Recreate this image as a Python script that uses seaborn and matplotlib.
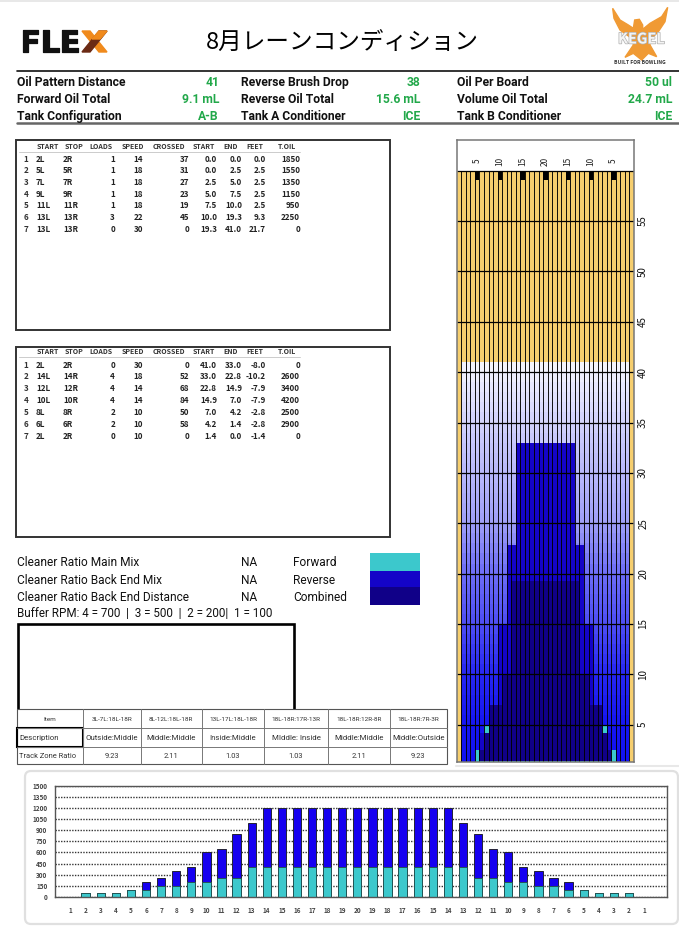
#!/usr/bin/env python3
"""Lane condition sheet: oil pattern summary, lane graph and board totals."""

import matplotlib
matplotlib.use("Agg")
import matplotlib.patheffects as pe
import matplotlib.pyplot as plt
import numpy as np
import pandas as pd
import seaborn as sns
from matplotlib.colors import ListedColormap
from matplotlib.patches import FancyBboxPatch, Polygon, Rectangle

W, H = 679, 930

TITLE = "8月レーンコンディション"

SUMMARY = [
    [("Oil Pattern Distance", "41"), ("Reverse Brush Drop", "38"), ("Oil Per Board", "50 ul")],
    [("Forward Oil Total", "9.1 mL"), ("Reverse Oil Total", "15.6 mL"), ("Volume Oil Total", "24.7 mL")],
    [("Tank Configuration", "A-B"), ("Tank A Conditioner", "ICE"), ("Tank B Conditioner", "ICE")],
]

TABLE_HEAD = ["START", "STOP", "LOADS", "SPEED", "CROSSED", "START", "END", "FEET", "T.OIL"]
FORWARD_ROWS = [
    ["1", "2L", "2R", "1", "14", "37", "0.0", "0.0", "0.0", "1850"],
    ["2", "5L", "5R", "1", "18", "31", "0.0", "2.5", "2.5", "1550"],
    ["3", "7L", "7R", "1", "18", "27", "2.5", "5.0", "2.5", "1350"],
    ["4", "9L", "9R", "1", "18", "23", "5.0", "7.5", "2.5", "1150"],
    ["5", "11L", "11R", "1", "18", "19", "7.5", "10.0", "2.5", "950"],
    ["6", "13L", "13R", "3", "22", "45", "10.0", "19.3", "9.3", "2250"],
    ["7", "13L", "13R", "0", "30", "0", "19.3", "41.0", "21.7", "0"],
]
REVERSE_ROWS = [
    ["1", "2L", "2R", "0", "30", "0", "41.0", "33.0", "-8.0", "0"],
    ["2", "14L", "14R", "4", "18", "52", "33.0", "22.8", "-10.2", "2600"],
    ["3", "12L", "12R", "4", "14", "68", "22.8", "14.9", "-7.9", "3400"],
    ["4", "10L", "10R", "4", "14", "84", "14.9", "7.0", "-7.9", "4200"],
    ["5", "8L", "8R", "2", "10", "50", "7.0", "4.2", "-2.8", "2500"],
    ["6", "6L", "6R", "2", "10", "58", "4.2", "1.4", "-2.8", "2900"],
    ["7", "2L", "2R", "0", "10", "0", "1.4", "0.0", "-1.4", "0"],
]

CLEANER = [
    ("Cleaner Ratio Main Mix", "NA", "Forward"),
    ("Cleaner Ratio Back End Mix", "NA", "Reverse"),
    ("Cleaner Ratio Back End Distance", "NA", "Combined"),
]
BUFFER = "Buffer RPM: 4 = 700  |  3 = 500  |  2 = 200|  1 = 100"

ZONE_ITEM = ["Item", "3L-7L:18L-18R", "8L-12L:18L-18R", "13L-17L:18L-18R",
             "18L-18R:17R-13R", "18L-18R:12R-8R", "18L-18R:7R-3R"]
ZONE_DESC = ["Description", "Outside:Middle", "Middle:Middle", "Inside:Middle",
             "MIddle: Inside", "Middle:Middle", "Middle:Outside"]
ZONE_RATIO = ["Track Zone Ratio", "9.23", "2.11", "1.03", "1.03", "2.11", "9.23"]

# lane graph: first board from the gutter, from/to in feet
FWD_BOARD = [5, 7, 8, 11, 13]
FWD_FROM = [0.0, 2.5, 5.0, 7.0, 10.0]
FWD_TO = [2.5, 5.0, 7.0, 10.0, 19.3]
REV_BOARD = [14, 12, 10, 8, 6]
REV_FROM = [22.8, 14.9, 7.0, 4.2, 1.4]
REV_TO = [33.0, 22.8, 14.9, 7.0, 4.2]
PATTERN_END = 41
LANE_FEET = [5, 10, 15, 20, 25, 30, 35, 40, 45, 50, 55]
TOP_BOARDS = [5, 10, 15, 20, 15, 10, 5]

# oil per board across the lane, gutter to gutter
BOARDS = [1, 2, 3, 4, 5, 6, 7, 8, 9, 10, 11, 12, 13, 14, 15, 16, 17, 18, 19, 20,
          19, 18, 17, 16, 15, 14, 13, 12, 11, 10, 9, 8, 7, 6, 5, 4, 3, 2, 1]
FORWARD = [0, 50, 50, 50, 100, 100, 150, 150, 200, 200, 250, 250, 400, 400, 400, 400, 400, 400, 400, 400,
           400, 400, 400, 400, 400, 400, 400, 250, 250, 200, 200, 150, 150, 100, 100, 50, 50, 50, 0]
TOTAL = [0, 50, 50, 50, 100, 200, 250, 350, 400, 600, 650, 850, 1000, 1200, 1200, 1200, 1200, 1200, 1200, 1200,
         1200, 1200, 1200, 1200, 1200, 1200, 1000, 850, 650, 600, 400, 350, 250, 200, 100, 50, 50, 50, 0]
OIL_TICKS = [0, 150, 300, 450, 600, 750, 900, 1050, 1200, 1350, 1500]

GOLD = "#f6ce6e"
CYAN = "#3cc8cc"
REV_BLUE = "#1404c8"
COMB_BLUE = "#100088"
BAR_BLUE = "#1600f0"
GREEN = "#22a84a"
# lane shading from the foul line up to the end of the pattern
SHADE_FEET = [0, 5, 10, 15, 20, 25, 30, 35, 41]
SHADE_LEVEL = [0.06, 0.08, 0.15, 0.30, 0.42, 0.62, 0.72, 0.82, 0.97]

NARROW = ["Roboto", "DejaVu Sans"]


def px_axes(fig, left, top, right, bottom):
    return fig.add_axes([left / W, 1 - bottom / H, (right - left) / W, (bottom - top) / H])


def draw_logos(page):
    page.text(20, 52, "FLE", fontsize=21.5, fontweight="bold", family="DejaVu Sans",
              color="#111111", va="baseline", ha="left",
              path_effects=[pe.withStroke(linewidth=0.9, foreground="#111111")])
    page.add_patch(Polygon([(82, 31), (90, 31), (107, 52), (99, 52)], color="#f08a1c"))
    page.add_patch(Polygon([(99, 31), (107, 31), (90, 52), (82, 52)], color="#6b2a14"))
    page.add_patch(Polygon([(99, 31), (107, 31), (100, 39), (92, 39)], color="#f08a1c"))
    wing = [(38, 25), (60, 60), (85, 75), (100, 85), (104, 60), (118, 58), (128, 75), (128, 88),
            (150, 70), (185, 50), (203, 22), (195, 65), (175, 95), (150, 120), (150, 135), (170, 170),
            (145, 160), (125, 180), (100, 160), (75, 172), (100, 135), (95, 115), (60, 90), (42, 55)]
    page.add_patch(Polygon([(600 + x / 3, y / 3) for x, y in wing], color="#f09a34"))
    page.text(641.5, 38.5, "KEGEL", fontsize=10.5, fontweight="bold", color="#f4f4f4",
              ha="center", va="center",
              path_effects=[pe.withStroke(linewidth=1.0, foreground="#b0b0b0")])
    page.text(640, 62.5, "BUILT FOR BOWLING", fontsize=3.6, fontweight="bold", color="#333333",
              ha="center", va="center")


def draw_summary(page):
    page.plot([17, 679], [71, 71], color="#111111", lw=1.2)
    page.plot([17, 679], [123, 123], color="#666666", lw=1.8)
    label_x = [17, 241, 457]
    value_x = [219, 420, 672]
    for row, y in zip(SUMMARY, [86, 103, 120]):
        for (label, value), lx, vx in zip(row, label_x, value_x):
            page.text(lx, y, label, fontsize=8.7, fontweight="bold", family=NARROW,
                      color="#111111", va="baseline", ha="left")
            page.text(vx, y, value, fontsize=8.7, fontweight="bold", family=NARROW,
                      color=GREEN, va="baseline", ha="right")


def draw_tank_table(page, rows, top, bottom, head_y, first_y, step):
    page.add_patch(Rectangle((16, top), 374, bottom - top, fill=False, ec="#333333", lw=1.4))
    head_x = [48, 74, 101, 133, 169, 204, 231, 255, 287]
    for text, x in zip(TABLE_HEAD, head_x):
        page.text(x, head_y, text, fontsize=5.0, fontweight="bold", color="#333333",
                  ha="center", va="center")
    page.plot([19, 300], [head_y + 5, head_y + 5], color="#cccccc", lw=0.7)
    right_x = [115, 143, 189, 217, 242, 266, 300]
    for i, row in enumerate(rows):
        y = first_y + i * step
        page.text(26, y, row[0], fontsize=5.8, fontweight="bold", color="#333333", ha="center", va="center")
        page.text(36, y, row[1], fontsize=5.8, fontweight="bold", color="#222222", ha="left", va="center")
        page.text(63, y, row[2], fontsize=5.8, fontweight="bold", color="#222222", ha="left", va="center")
        for text, x in zip(row[3:], right_x):
            page.text(x, y, text, fontsize=5.8, fontweight="bold", color="#222222", ha="right", va="center")


def draw_cleaner(page):
    for (name, na, legend), y in zip(CLEANER, [566, 584, 601]):
        page.text(17, y, name, fontsize=8.55, family=NARROW, color="#111111", va="baseline")
        page.text(241, y, na, fontsize=8.55, family=NARROW, color="#111111", va="baseline")
        page.text(293.5, y, legend, fontsize=8.55, family=NARROW, color="#111111", va="baseline")
    page.text(17, 617, BUFFER, fontsize=8.4, family=NARROW, color="#111111", va="baseline")
    for color, top, bottom in zip([CYAN, REV_BLUE, COMB_BLUE], [553.3, 570.7, 587.3], [570.7, 587.3, 605]):
        page.add_patch(Rectangle((370, top), 50, bottom - top, color=color, lw=0))
    page.add_patch(Rectangle((17.5, 623.5), 276, 86, fill=False, ec="black", lw=1.9))


def draw_zone_table(page):
    xs = [17.3, 82.7, 140.7, 201.7, 264.3, 327.7, 390, 446.7]
    ys = [709, 728.3, 747.3, 764]
    page.add_patch(Rectangle((xs[0], ys[0]), xs[-1] - xs[0], ys[-1] - ys[0], fc="white", ec="#555555", lw=0.8))
    for x in xs[1:-1]:
        page.plot([x, x], [ys[0], ys[-1]], color="#777777", lw=0.7)
    for y in ys[1:-1]:
        page.plot([xs[0], xs[-1]], [y, y], color="#777777", lw=0.7)
    page.add_patch(Rectangle((xs[0], ys[1]), xs[1] - xs[0], ys[2] - ys[1], fill=False, ec="black", lw=1.5))
    for row, y, size in zip([ZONE_ITEM, ZONE_DESC, ZONE_RATIO], [720.5, 740, 758], [4.6, 5.7, 5.4]):
        for i, text in enumerate(row):
            centre = (xs[i] + xs[i + 1]) / 2
            if i == 0 and text != "Item":
                page.text(xs[0] + 2, y, text, fontsize=size, family=NARROW, color="#333333", va="baseline")
            else:
                page.text(centre, y, text, fontsize=size, family=NARROW, color="#333333",
                          va="baseline", ha="center")


def lane_matrix():
    rows, cols = 600, 39
    feet = 60 - (np.arange(rows) + 0.5) / 10
    # 0 gold, 1 forward, 2 reverse, 3 combined, 4 black, 5.. shading per foot
    grid = np.zeros((rows, cols), dtype=int)
    inside = feet < PATTERN_END
    grid[inside, 1:38] = (5 + np.floor(feet[inside]).astype(int))[:, None]
    fwd = np.zeros_like(grid, dtype=bool)
    rev = np.zeros_like(grid, dtype=bool)
    for board, lo, hi in zip(FWD_BOARD, FWD_FROM, FWD_TO):
        fwd[(feet >= lo) & (feet < hi), board - 1:40 - board] = True
    for board, lo, hi in zip(REV_BOARD, REV_FROM, REV_TO):
        rev[(feet >= lo) & (feet < hi), board - 1:40 - board] = True
    grid[fwd] = 1
    grid[rev] = 2
    grid[fwd & rev] = 3
    for col in [4, 9, 14, 19, 24, 29, 34]:
        grid[feet > 59.1, col] = 4
    return grid


def draw_lane(fig):
    ax = px_axes(fig, 456.7, 140, 634, 762)
    level = np.interp(np.arange(PATTERN_END) + 0.5, SHADE_FEET, SHADE_LEVEL)
    shades = [(v, v, 0.94 + 0.06 * v) for v in level]
    cmap = ListedColormap([GOLD, CYAN, REV_BLUE, COMB_BLUE, "black"] + shades)
    sns.heatmap(lane_matrix(), cmap=cmap, vmin=-0.5, vmax=cmap.N - 0.5, cbar=False,
                xticklabels=False, yticklabels=False, ax=ax)
    bottom_row, top_row = 587, -30.5
    ax.vlines(np.arange(1, 39), 0, bottom_row, color="black", lw=0.65)
    ax.hlines(0, 0, 39, color="black", lw=0.9)
    ft_rows = [(60 - f) * 10 for f in LANE_FEET]
    ax.hlines(ft_rows, 0, 39, color="black", lw=0.9)
    ax.set_xlim(0, 39)
    ax.set_ylim(bottom_row, top_row)
    ax.yaxis.tick_right()
    ax.set_yticks(ft_rows, [str(f) for f in LANE_FEET])
    ax.tick_params(axis="y", length=0, pad=3, labelsize=7, labelrotation=90, labelcolor="#111111")
    for label in ax.get_yticklabels():
        label.set_va("center")
    for col, board in zip([4, 9, 14, 19, 24, 29, 34], TOP_BOARDS):
        ax.text(col + 0.5, -9.5, str(board), rotation=90, fontsize=6, color="#222222",
                ha="center", va="center")
    for spine in ax.spines.values():
        spine.set_visible(True)
        spine.set_color("#777777")
        spine.set_linewidth(1.1)


def draw_bars(fig):
    ax = px_axes(fig, 55, 785.7, 666.7, 897)
    df = pd.DataFrame({"pos": range(len(BOARDS)), "forward": FORWARD, "total": TOTAL})
    ax.set_axisbelow(True)
    ax.yaxis.grid(True, color="#333333", ls=(0, (1, 1)), lw=1.0)
    ax.xaxis.grid(True, color="#d8d8d8", ls=(0, (2, 2)), lw=0.6)
    sns.barplot(data=df, x="pos", y="total", color=BAR_BLUE, saturation=1, width=0.55,
                edgecolor="#222233", linewidth=0.7, ax=ax)
    sns.barplot(data=df, x="pos", y="forward", color=CYAN, saturation=1, width=0.55,
                edgecolor="#225555", linewidth=0.7, ax=ax)
    ax.set_xlim(-1.03, 39.5)
    ax.set_ylim(0, 1500)
    ax.set_xlabel("")
    ax.set_ylabel("")
    ax.set_yticks(OIL_TICKS)
    ax.set_xticks(df["pos"], [str(b) for b in BOARDS])
    ax.tick_params(axis="both", labelsize=4.6, labelcolor="#444444", length=2, width=0.7, color="#555555")
    ax.tick_params(axis="x", pad=5)
    for label in ax.get_xticklabels() + ax.get_yticklabels():
        label.set_fontweight("bold")
    for spine in ax.spines.values():
        spine.set_visible(True)
        spine.set_color("#555555")
        spine.set_linewidth(1.0)


def main():
    sns.set_theme(style="white")
    plt.rcParams["font.family"] = ["Noto Sans CJK JP", "DejaVu Sans"]
    fig = plt.figure(figsize=(W / 100, H / 100), dpi=100, facecolor="white")

    page = fig.add_axes([0, 0, 1, 1])
    page.set_xlim(0, W)
    page.set_ylim(H, 0)
    page.axis("off")

    page.plot([0, W], [0.8, 0.8], color="#e4e4e4", lw=1.2)
    draw_logos(page)
    page.text(342, 43, TITLE, fontsize=17, color="black", ha="center", va="center")
    draw_summary(page)
    draw_tank_table(page, FORWARD_ROWS, 140, 330, 146.7, 159, 11.7)
    draw_tank_table(page, REVERSE_ROWS, 347, 537, 351.7, 365, 11.85)
    draw_cleaner(page)
    draw_zone_table(page)
    page.plot([456, W], [766, 766], color="#e8e8e8", lw=1.5)
    page.add_patch(FancyBboxPatch((29, 775), 645, 145, boxstyle="round,pad=4,rounding_size=6",
                                  fc="white", ec="#e0e0e0", lw=1.6))

    draw_lane(fig)
    draw_bars(fig)

    fig.savefig("out.png", dpi=100)
    plt.close(fig)


if __name__ == "__main__":
    main()
